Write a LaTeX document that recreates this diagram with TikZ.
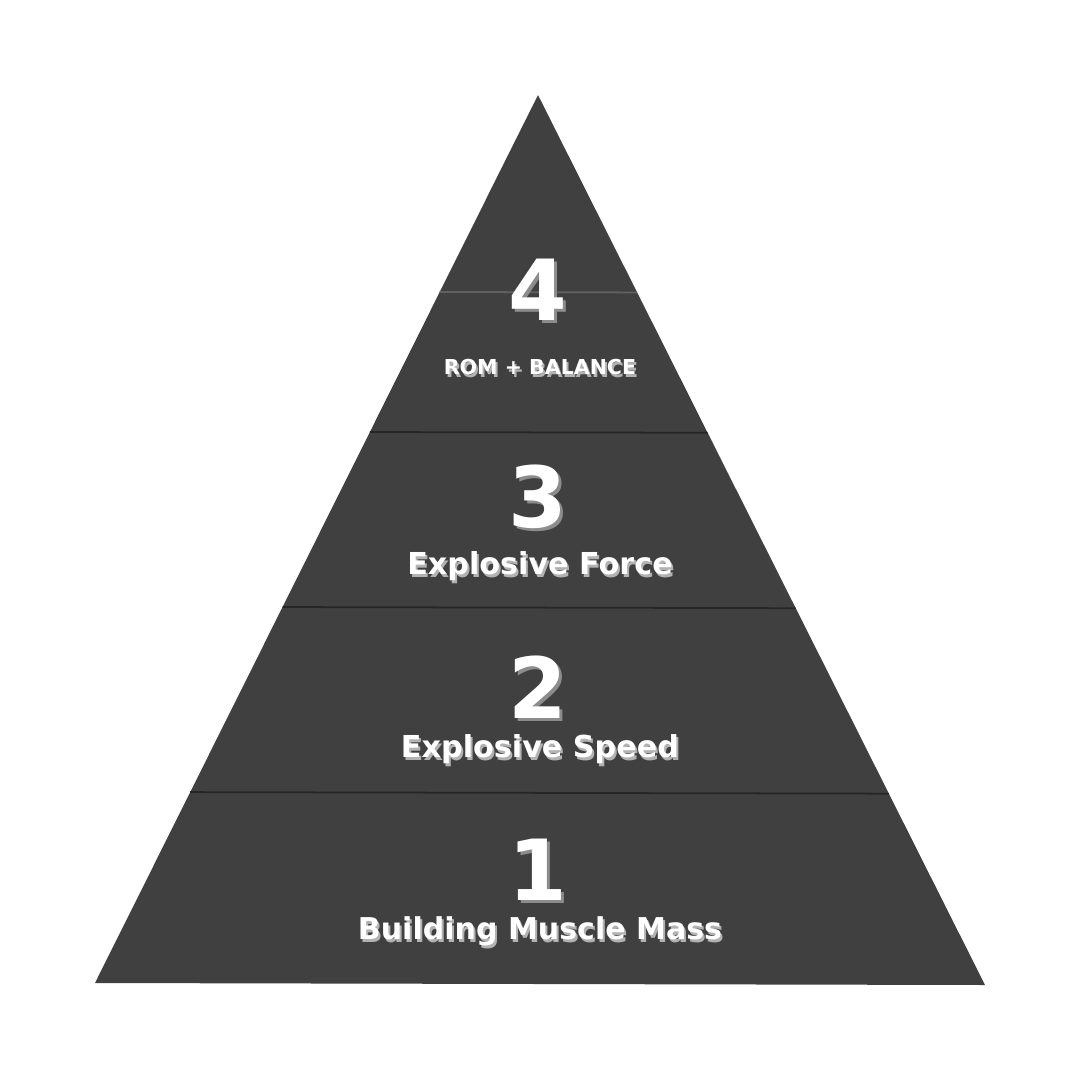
\documentclass[tikz,border=0pt]{standalone}
\usepackage{fontspec}
\setmainfont{DejaVu Sans}
\usetikzlibrary{calc}

\begin{document}
\begin{tikzpicture}[
    x=0.1mm, y=-0.1mm,
    pyramid/.style={fill=black!75, draw=none},
    tierline/.style={line width=0.5pt, draw=black!85},
    toptierline/.style={line width=0.5pt, draw=black!62},
    numtext/.style={text=white, font=\fontsize{24}{24}\selectfont\bfseries, inner sep=0pt},
    numshadow/.style={text=black!45, font=\fontsize{24}{24}\selectfont\bfseries, inner sep=0pt},
    lbltext/.style={text=white, font=\fontsize{#1}{#1}\selectfont\bfseries, inner sep=0pt},
    lblshadow/.style={text=black!30, font=\fontsize{#1}{#1}\selectfont\bfseries, inner sep=0pt}
]

    % Canvas
    \useasboundingbox[fill=white] (0,0) rectangle (1080,1080);

    % Pyramid body
    \coordinate (apex) at (538,95);
    \coordinate (bl) at (95,983);
    \coordinate (br) at (985,985);
    \fill[pyramid] (apex) -- (bl) -- (br) -- cycle;

    % Tier separators
    \foreach \t in {0.215, 0.4234, 0.6205} {
        \draw[tierline] ($(bl)!\t!(apex)$) -- ($(br)!\t!(apex)$);
    }
    \draw[toptierline] ($(bl)!0.7782!(apex)$) -- ($(br)!0.7782!(apex)$);

    % Tier numbers and labels
    \foreach \n/\ny/\ly/\sz/\txt in {4/290/367/5.85/{ROM + BALANCE}, 3/497/566/8.6/{Explosive Force}, 2/687/749/8.6/{Explosive Speed}, 1/870/931/8.55/{Building Muscle Mass}} {
        \node[numshadow] (num\n s) at (541,\ny+3) {\n};
        \node[numtext] (num\n) at (538,\ny) {\n};
        \node[lblshadow=\sz] (lbl\n s) at (542,\ly+3) {\txt};
        \node[lbltext=\sz] (lbl\n) at (540,\ly) {\txt};
    }

\end{tikzpicture}
\end{document}
